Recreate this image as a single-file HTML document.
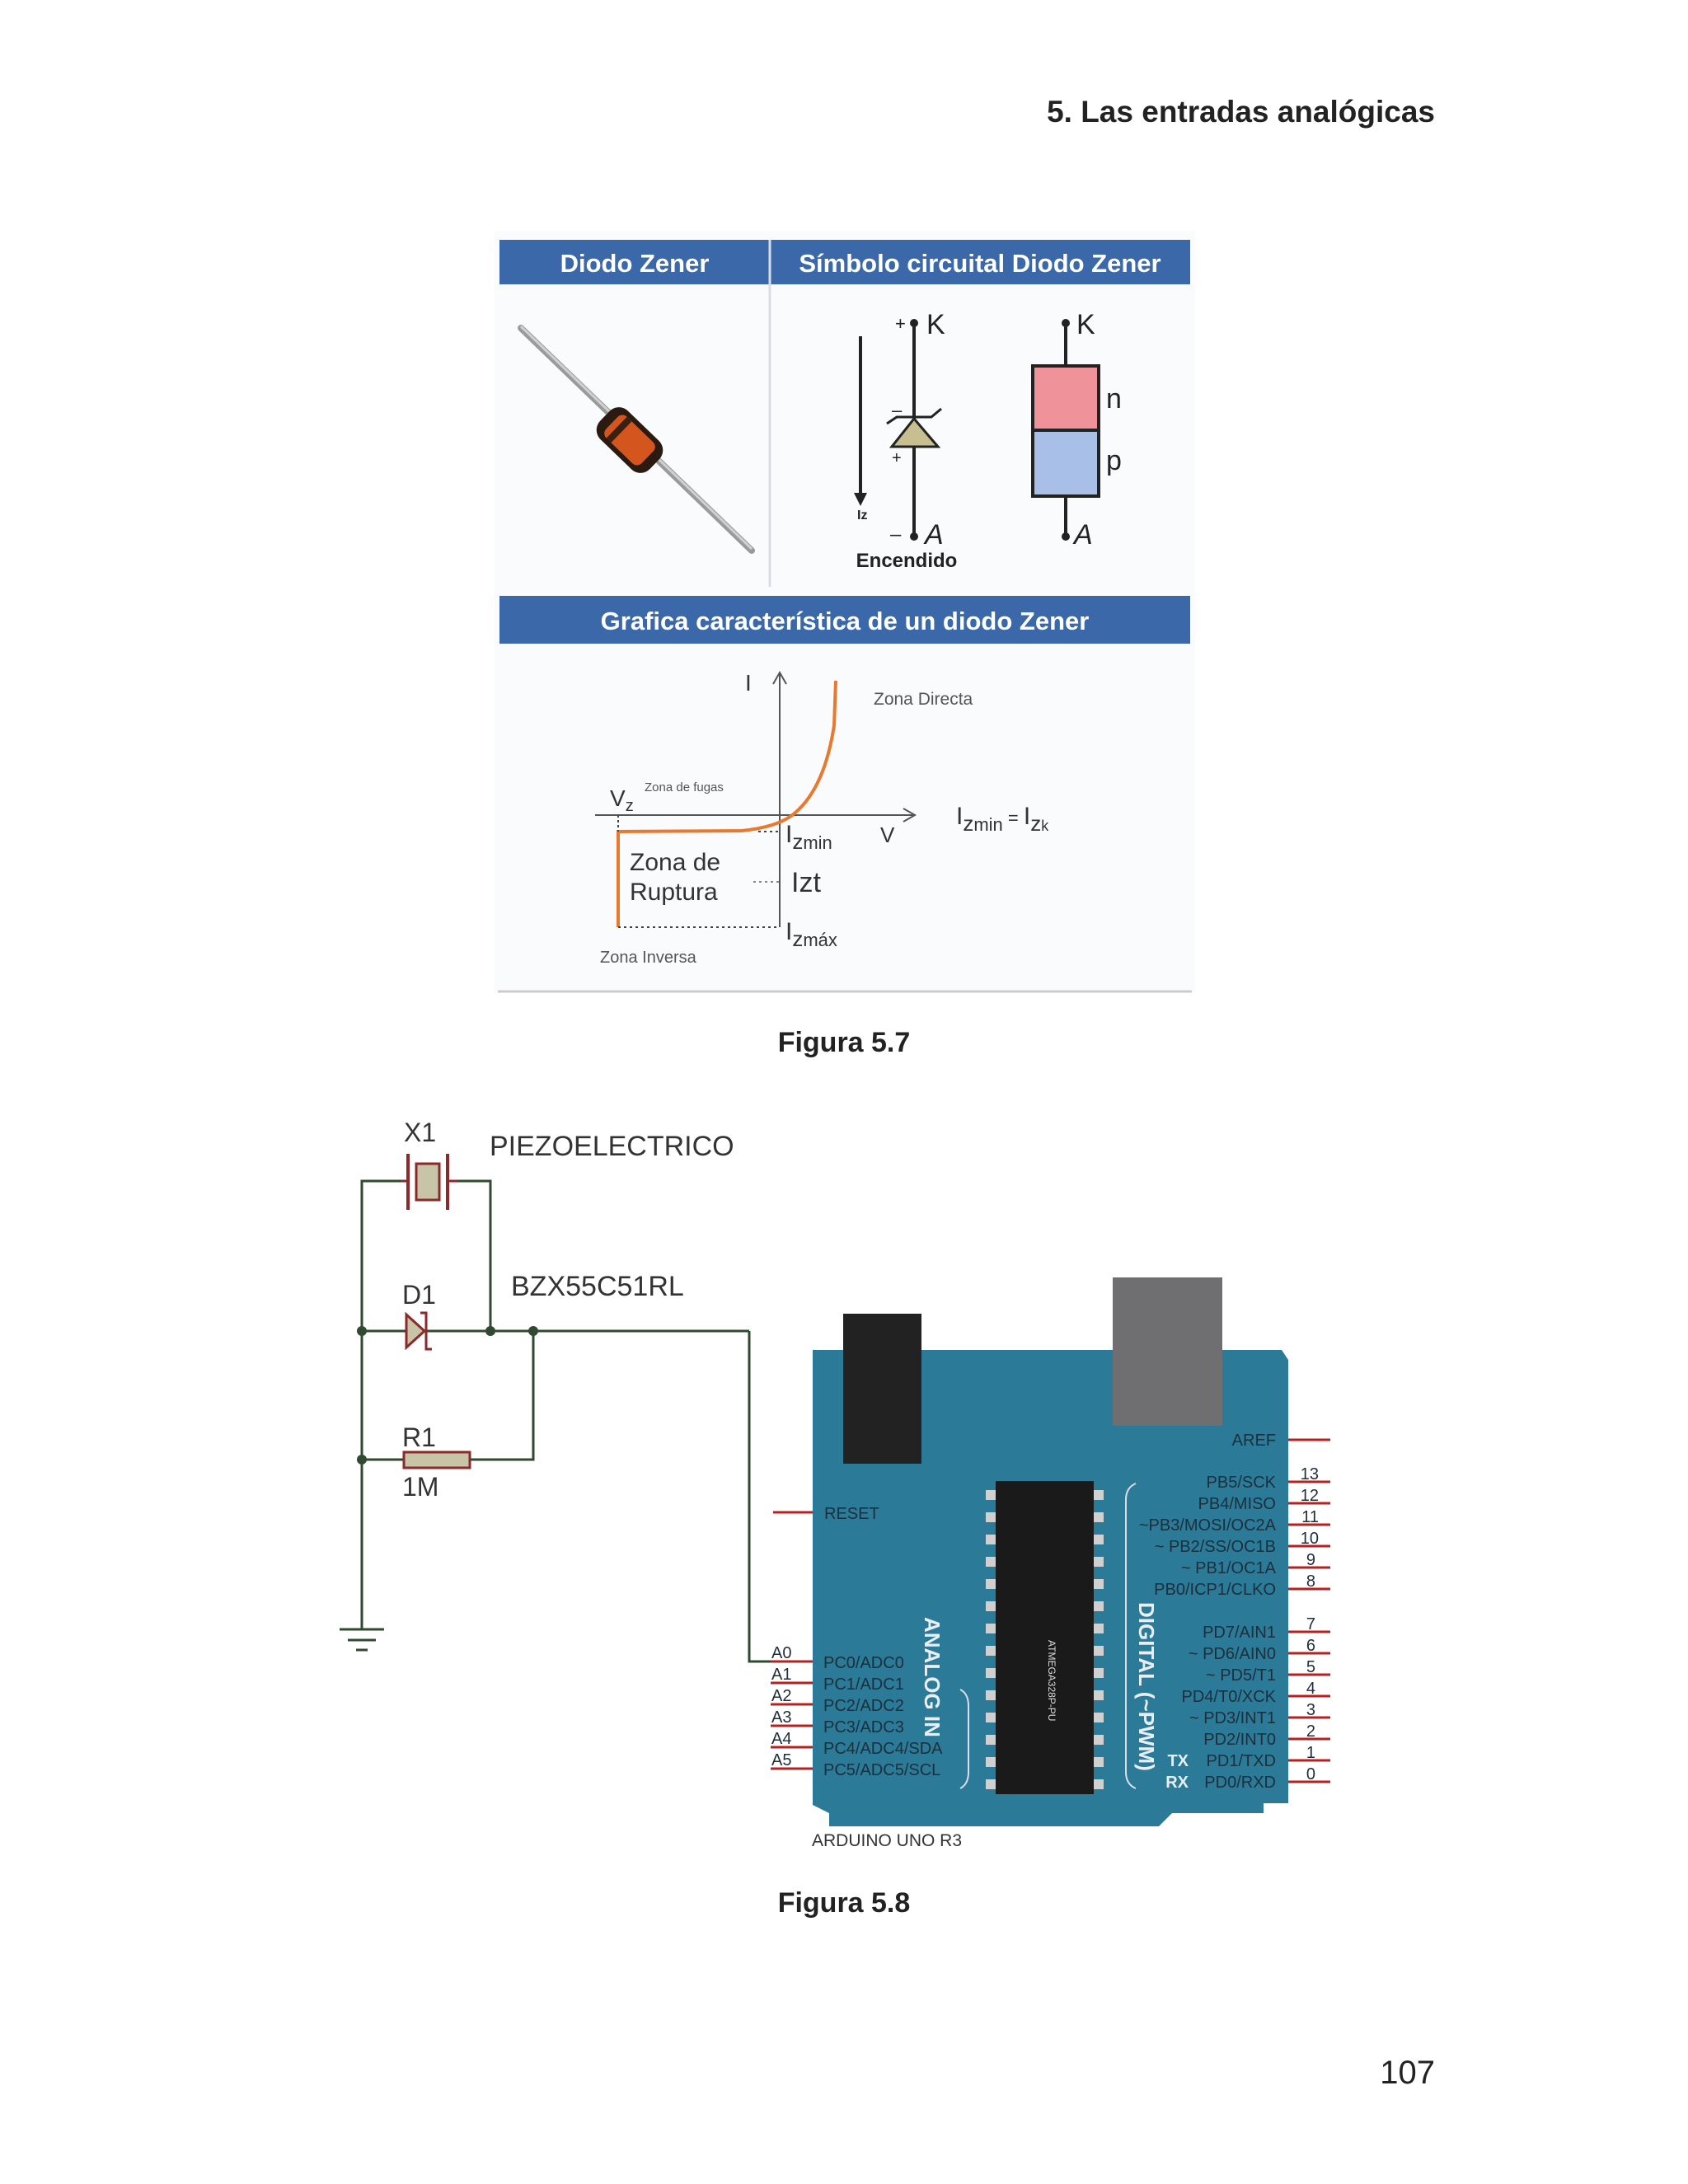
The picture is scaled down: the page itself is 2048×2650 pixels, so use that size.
<!DOCTYPE html>
<html><head><meta charset="utf-8"><style>
html,body{margin:0;padding:0;background:#fff}
svg{display:block}
text{font-family:"Liberation Sans",sans-serif}
</style></head><body>
<svg width="2048" height="2650" viewBox="0 0 2048 2650" xmlns="http://www.w3.org/2000/svg">
<rect width="2048" height="2650" fill="#fff"/>
<text x="1741" y="148" text-anchor="end" font-size="37" font-weight="bold" fill="#222" font-family="Liberation Sans">5. Las entradas analógicas</text>

<!-- Figure 5.7 -->
<rect x="600" y="280" width="850" height="925" fill="#fafbfd"/>
<rect x="606" y="291" width="838" height="54" fill="#3a68a8"/>
<line x1="934" y1="291" x2="934" y2="712" stroke="#d8dce4" stroke-width="3"/>
<text x="770" y="330" text-anchor="middle" font-size="31" font-weight="bold" fill="#fff">Diodo Zener</text>
<text x="1189" y="330" text-anchor="middle" font-size="31" font-weight="bold" fill="#fff">Símbolo circuital Diodo Zener</text>
<!-- diode photo -->
<line x1="632" y1="398" x2="912" y2="668" stroke="#9a9a9a" stroke-width="8" stroke-linecap="round"/>
<line x1="632" y1="396" x2="912" y2="666" stroke="#d0d0d0" stroke-width="3"/>
<g transform="translate(764,534) rotate(44)">
<rect x="-42" y="-24" width="84" height="48" rx="16" fill="#2a1a10"/>
<rect x="-30" y="-18" width="60" height="36" rx="8" fill="#d4561e"/>
<rect x="-22" y="-18" width="8" height="36" fill="#3a2010"/>
</g>
<!-- zener symbol -->
<line x1="1044" y1="408" x2="1044" y2="605" stroke="#222" stroke-width="4"/>
<polygon points="1036,598 1052,598 1044,614" fill="#222"/>
<text x="1040" y="630" font-size="16" font-weight="bold" fill="#222" font-family="Liberation Serif">Iz</text>
<line x1="1109" y1="392" x2="1109" y2="651" stroke="#222" stroke-width="4"/>
<circle cx="1109" cy="392" r="5" fill="#222"/><circle cx="1109" cy="651" r="5" fill="#222"/>
<polygon points="1082,542 1138,542 1109,508" fill="#c8bf90" stroke="#222" stroke-width="3"/>
<polyline points="1076,514 1088,506 1130,506 1142,496" fill="none" stroke="#222" stroke-width="3"/>
<text x="1086" y="400" font-size="22" fill="#222">+</text>
<text x="1082" y="505" font-size="22" fill="#222">–</text>
<text x="1082" y="562" font-size="20" fill="#222">+</text>
<text x="1080" y="656" font-size="24" fill="#222">–</text>
<text x="1124" y="405" font-size="34" fill="#222">K</text>
<text x="1122" y="660" font-size="34" font-style="italic" fill="#222">A</text>
<text x="1100" y="688" text-anchor="middle" font-size="24" font-weight="bold" fill="#222" font-family="DejaVu Sans">Encendido</text>
<!-- n/p -->
<line x1="1293" y1="392" x2="1293" y2="651" stroke="#222" stroke-width="4"/>
<circle cx="1293" cy="392" r="5" fill="#222"/><circle cx="1293" cy="651" r="5" fill="#222"/>
<rect x="1253" y="444" width="80" height="78" fill="#f0929a" stroke="#222" stroke-width="4"/>
<rect x="1253" y="522" width="80" height="80" fill="#a8c0e8" stroke="#222" stroke-width="4"/>
<text x="1306" y="405" font-size="34" fill="#222">K</text>
<text x="1342" y="495" font-size="34" fill="#222">n</text>
<text x="1342" y="570" font-size="34" fill="#222">p</text>
<text x="1303" y="660" font-size="34" font-style="italic" fill="#222">A</text>
<!-- second bar -->
<rect x="606" y="723" width="838" height="58" fill="#3a68a8"/>
<text x="1025" y="764" text-anchor="middle" font-size="31" font-weight="bold" fill="#fff">Grafica característica de un diodo Zener</text>
<!-- graph -->
<line x1="946" y1="818" x2="946" y2="1125" stroke="#555" stroke-width="2"/>
<polyline points="938,830 946,816 954,830" fill="none" stroke="#555" stroke-width="2"/>
<line x1="722" y1="989" x2="1108" y2="989" stroke="#555" stroke-width="2"/>
<polyline points="1096,981 1110,989 1096,997" fill="none" stroke="#555" stroke-width="2"/>
<path d="M750,1125 L750,1009 L900,1008 Q940,1004 960,990 Q1000,960 1012,880 L1014,826" fill="none" stroke="#e8792e" stroke-width="4"/>
<line x1="750" y1="1125" x2="946" y2="1125" stroke="#444" stroke-width="2" stroke-dasharray="3,4"/>
<line x1="914" y1="1070" x2="946" y2="1070" stroke="#888" stroke-width="2" stroke-dasharray="3,4"/>
<line x1="920" y1="1009" x2="946" y2="1009" stroke="#444" stroke-width="2" stroke-dasharray="3,4"/>
<line x1="750" y1="989" x2="750" y2="1009" stroke="#444" stroke-width="2" stroke-dasharray="3,3"/>
<text x="904" y="838" font-size="28" fill="#333" font-family="Liberation Serif">I</text>
<text x="1060" y="855" font-size="21" fill="#555">Zona Directa</text>
<text x="782" y="960" font-size="15" fill="#555">Zona de fugas</text>
<text x="740" y="978" font-size="28" fill="#333">V<tspan font-size="20" dy="6">z</tspan></text>
<text x="953" y="1022" font-size="30" fill="#333" font-family="Liberation Serif">I<tspan font-size="26" dy="8" font-family="Liberation Sans">z<tspan font-size="22">min</tspan></tspan></text>
<text x="1068" y="1022" font-size="26" fill="#333">V</text>
<text x="1160" y="1000" font-size="30" fill="#333" font-family="Liberation Serif">I<tspan font-size="26" dy="8" font-family="Liberation Sans">z<tspan font-size="22">min</tspan></tspan><tspan dy="-8" font-size="22"> = </tspan><tspan>I</tspan><tspan font-size="26" dy="8" font-family="Liberation Sans">z<tspan font-size="18">k</tspan></tspan></text>
<text x="764" y="1056" font-size="30" fill="#333">Zona de</text>
<text x="764" y="1092" font-size="30" fill="#333">Ruptura</text>
<text x="960" y="1082" font-size="34" fill="#333">Izt</text>
<text x="953" y="1140" font-size="30" fill="#333" font-family="Liberation Serif">I<tspan font-size="26" dy="8" font-family="Liberation Sans">z<tspan font-size="22">máx</tspan></tspan></text>
<text x="728" y="1168" font-size="20" fill="#555">Zona Inversa</text>
<line x1="604" y1="1203" x2="1446" y2="1203" stroke="#ccc" stroke-width="3"/>
<text x="1024" y="1276" text-anchor="middle" font-size="34" font-weight="bold" fill="#222">Figura 5.7</text>

<!-- Circuit -->
<g stroke="#2f4a2f" stroke-width="3" fill="none">
<polyline points="495,1433 439,1433 439,1977"/>
<polyline points="555,1433 595,1433 595,1615"/>
<line x1="439" y1="1615" x2="909" y2="1615"/>
<polyline points="909,1615 909,2016 946,2016"/>
<polyline points="647,1615 647,1771 571,1771"/>
<line x1="439" y1="1771" x2="490" y2="1771"/>
<line x1="412" y1="1977" x2="466" y2="1977"/>
<line x1="422" y1="1990" x2="456" y2="1990"/>
<line x1="432" y1="2002" x2="446" y2="2002"/>
</g>
<g fill="#2f4a2f"><circle cx="439" cy="1615" r="6"/><circle cx="595" cy="1615" r="6"/><circle cx="647" cy="1615" r="6"/><circle cx="439" cy="1771" r="6"/></g>
<!-- crystal -->
<line x1="495" y1="1400" x2="495" y2="1468" stroke="#8b2a2a" stroke-width="4"/>
<line x1="543" y1="1400" x2="543" y2="1468" stroke="#8b2a2a" stroke-width="4"/>
<rect x="505" y="1412" width="28" height="44" fill="#c8c4a8" stroke="#8b2a2a" stroke-width="3"/>
<line x1="487" y1="1433" x2="495" y2="1433" stroke="#8b2a2a" stroke-width="3"/>
<line x1="543" y1="1433" x2="555" y2="1433" stroke="#8b2a2a" stroke-width="3"/>
<text x="490" y="1385" font-size="32" fill="#333">X1</text>
<text x="594" y="1402" font-size="34" fill="#333">PIEZOELECTRICO</text>
<!-- diode -->
<polygon points="493,1595 493,1635 515,1615" fill="#c8c4a8" stroke="#8b2a2a" stroke-width="3"/>
<polyline points="510,1593 517,1593 517,1637 524,1637" fill="none" stroke="#8b2a2a" stroke-width="3"/>
<text x="488" y="1582" font-size="32" fill="#333">D1</text>
<text x="620" y="1572" font-size="34" fill="#333">BZX55C51RL</text>
<!-- resistor -->
<rect x="490" y="1762" width="80" height="19" fill="#c8c4a8" stroke="#8b2a2a" stroke-width="3"/>
<text x="488" y="1755" font-size="32" fill="#333">R1</text>
<text x="488" y="1815" font-size="32" fill="#333">1M</text>

<!-- Arduino board -->
<polygon points="986,1638 1555,1638 1563,1650 1563,2188 1533,2188 1533,2200 1422,2200 1406,2216 1006,2216 1006,2200 986,2190" fill="#2a7a98"/>
<rect x="1023" y="1594" width="95" height="182" fill="#222"/>
<rect x="1350" y="1550" width="133" height="180" fill="#6f6f72"/>
<rect x="1208" y="1797" width="119" height="380" fill="#1a1a1a"/>
<g fill="#d0d0d0">
<rect x="1196" y="1808" width="12" height="12"/><rect x="1196" y="1835" width="12" height="12"/><rect x="1196" y="1862" width="12" height="12"/><rect x="1196" y="1889" width="12" height="12"/><rect x="1196" y="1916" width="12" height="12"/><rect x="1196" y="1943" width="12" height="12"/><rect x="1196" y="1970" width="12" height="12"/><rect x="1196" y="1997" width="12" height="12"/><rect x="1196" y="2024" width="12" height="12"/><rect x="1196" y="2051" width="12" height="12"/><rect x="1196" y="2078" width="12" height="12"/><rect x="1196" y="2105" width="12" height="12"/><rect x="1196" y="2132" width="12" height="12"/><rect x="1196" y="2159" width="12" height="12"/>
<rect x="1327" y="1808" width="12" height="12"/><rect x="1327" y="1835" width="12" height="12"/><rect x="1327" y="1862" width="12" height="12"/><rect x="1327" y="1889" width="12" height="12"/><rect x="1327" y="1916" width="12" height="12"/><rect x="1327" y="1943" width="12" height="12"/><rect x="1327" y="1970" width="12" height="12"/><rect x="1327" y="1997" width="12" height="12"/><rect x="1327" y="2024" width="12" height="12"/><rect x="1327" y="2051" width="12" height="12"/><rect x="1327" y="2078" width="12" height="12"/><rect x="1327" y="2105" width="12" height="12"/><rect x="1327" y="2132" width="12" height="12"/><rect x="1327" y="2159" width="12" height="12"/>
</g>
<text transform="translate(1272,1990) rotate(90)" font-size="12" fill="#ddd">ATMEGA328P-PU</text>
<text transform="translate(1122,1962) rotate(90)" font-size="26" font-weight="bold" fill="#e8eef2">ANALOG IN</text>
<text transform="translate(1382,1944) rotate(90)" font-size="26" font-weight="bold" fill="#e8eef2">DIGITAL (~PWM)</text>
<path d="M1165,2050 Q1175,2055 1175,2070 L1175,2150 Q1175,2165 1165,2170" fill="none" stroke="#dde" stroke-width="2"/>
<path d="M1378,1800 Q1366,1805 1366,1820 L1366,2150 Q1366,2165 1378,2170" fill="none" stroke="#dde" stroke-width="2"/>
<!-- left pins -->
<g stroke="#b82020" stroke-width="3">
<line x1="938" y1="1835" x2="986" y2="1835"/>
<line x1="935" y1="2016" x2="986" y2="2016"/><line x1="935" y1="2042" x2="986" y2="2042"/><line x1="935" y1="2068" x2="986" y2="2068"/><line x1="935" y1="2094" x2="986" y2="2094"/><line x1="935" y1="2120" x2="986" y2="2120"/><line x1="935" y1="2146" x2="986" y2="2146"/>
</g>
<g font-size="20" fill="#1d2f3a">
<text x="1000" y="1843">RESET</text>
<text x="936" y="2012">A0</text><text x="936" y="2038">A1</text><text x="936" y="2064">A2</text><text x="936" y="2090">A3</text><text x="936" y="2116">A4</text><text x="936" y="2142">A5</text>
<text x="999" y="2024">PC0/ADC0</text><text x="999" y="2050">PC1/ADC1</text><text x="999" y="2076">PC2/ADC2</text><text x="999" y="2102">PC3/ADC3</text><text x="999" y="2128">PC4/ADC4/SDA</text><text x="999" y="2154">PC5/ADC5/SCL</text>
</g>
<!-- right pins -->
<g stroke="#b82020" stroke-width="3">
<line x1="1563" y1="1747" x2="1614" y2="1747"/>
<line x1="1563" y1="1798" x2="1614" y2="1798"/><line x1="1563" y1="1824" x2="1614" y2="1824"/><line x1="1563" y1="1850" x2="1614" y2="1850"/><line x1="1563" y1="1876" x2="1614" y2="1876"/><line x1="1563" y1="1902" x2="1614" y2="1902"/><line x1="1563" y1="1928" x2="1614" y2="1928"/>
<line x1="1563" y1="1980" x2="1614" y2="1980"/><line x1="1563" y1="2006" x2="1614" y2="2006"/><line x1="1563" y1="2032" x2="1614" y2="2032"/><line x1="1563" y1="2058" x2="1614" y2="2058"/><line x1="1563" y1="2084" x2="1614" y2="2084"/><line x1="1563" y1="2110" x2="1614" y2="2110"/><line x1="1563" y1="2136" x2="1614" y2="2136"/><line x1="1563" y1="2162" x2="1614" y2="2162"/>
</g>
<g font-size="20" fill="#1d2f3a" text-anchor="end">
<text x="1548" y="1754">AREF</text>
<text x="1548" y="1805">PB5/SCK</text><text x="1548" y="1831">PB4/MISO</text><text x="1548" y="1857">~PB3/MOSI/OC2A</text><text x="1548" y="1883">~ PB2/SS/OC1B</text><text x="1548" y="1909">~ PB1/OC1A</text><text x="1548" y="1935">PB0/ICP1/CLKO</text>
<text x="1548" y="1987">PD7/AIN1</text><text x="1548" y="2013">~ PD6/AIN0</text><text x="1548" y="2039">~ PD5/T1</text><text x="1548" y="2065">PD4/T0/XCK</text><text x="1548" y="2091">~ PD3/INT1</text><text x="1548" y="2117">PD2/INT0</text><text x="1548" y="2143">PD1/TXD</text><text x="1548" y="2169">PD0/RXD</text>
<text x="1600" y="1795">13</text><text x="1600" y="1821">12</text><text x="1600" y="1847">11</text><text x="1600" y="1873">10</text><text x="1596" y="1899">9</text><text x="1596" y="1925">8</text>
<text x="1596" y="1977">7</text><text x="1596" y="2003">6</text><text x="1596" y="2029">5</text><text x="1596" y="2055">4</text><text x="1596" y="2081">3</text><text x="1596" y="2107">2</text><text x="1596" y="2133">1</text><text x="1596" y="2159">0</text>
</g>
<text x="1442" y="2143" font-size="20" font-weight="bold" fill="#e8eef2" text-anchor="end">TX</text>
<text x="1442" y="2169" font-size="20" font-weight="bold" fill="#e8eef2" text-anchor="end">RX</text>
<text x="985" y="2240" font-size="21" fill="#333">ARDUINO UNO R3</text>

<text x="1024" y="2320" text-anchor="middle" font-size="34" font-weight="bold" fill="#222">Figura 5.8</text>
<text x="1741" y="2528" text-anchor="end" font-size="40" fill="#222">107</text>
</svg>
</body></html>
